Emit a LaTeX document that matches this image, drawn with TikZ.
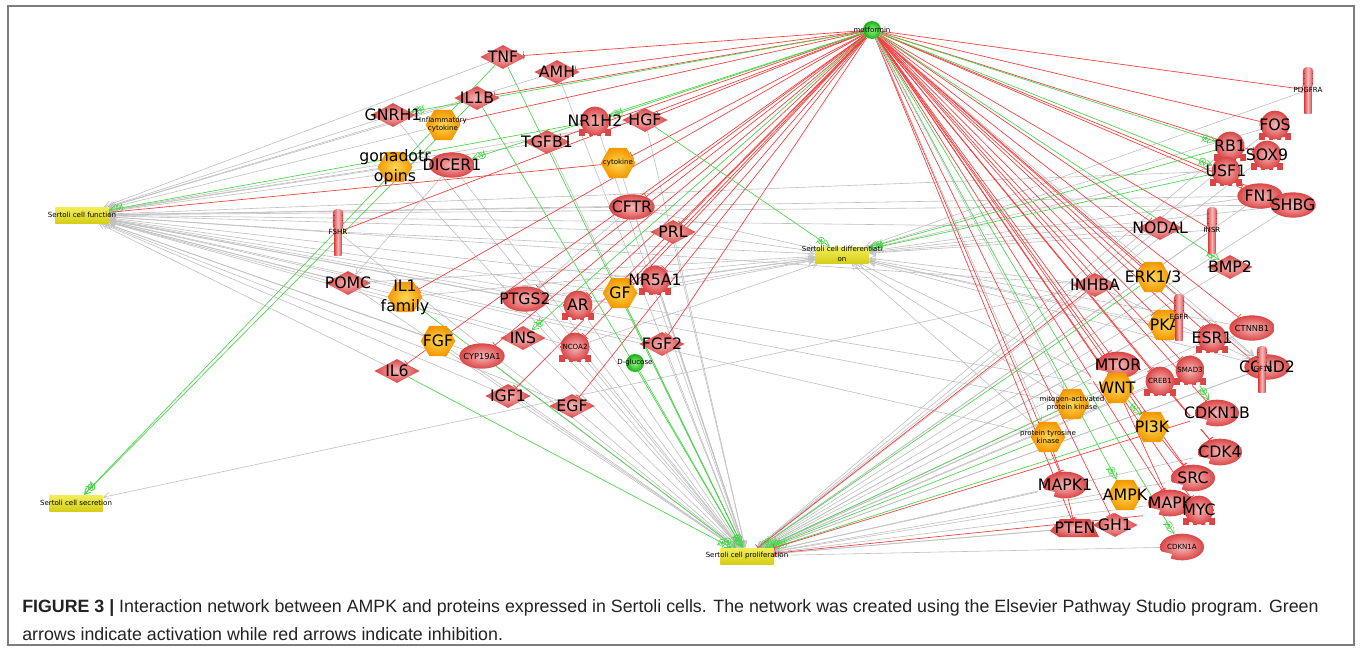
\documentclass[tikz,border=0pt]{standalone}
\usepackage{fontspec}
\setmainfont{DejaVu Sans}
\newfontfamily\capfont{Liberation Sans}
\usetikzlibrary{shapes.geometric,arrows.meta,decorations.markings}
\pgfdeclarelayer{edgelayer}
\pgfdeclarelayer{paper}
\pgfsetlayers{paper,edgelayer,main}

\definecolor{rdark}{RGB}{218,70,70}
\definecolor{rlight}{RGB}{248,185,185}
\definecolor{odark}{RGB}{243,152,0}
\definecolor{olight}{RGB}{255,215,85}
\definecolor{gdark}{RGB}{25,175,25}
\definecolor{glight}{RGB}{150,245,130}
\definecolor{ydark}{RGB}{214,206,24}
\definecolor{ylight}{RGB}{242,238,90}
\definecolor{linegray}{RGB}{192,192,192}
\definecolor{linered}{RGB}{246,60,60}
\definecolor{linegreen}{RGB}{75,212,75}
\definecolor{framegray}{RGB}{125,125,125}
\definecolor{captext}{RGB}{35,35,35}

\newcommand\plusmark{%
  \draw[linegreen,line width=0.45pt] (0,0) circle (2.6pt);
  \draw[linegreen,line width=0.45pt] (-1.6pt,0)--(1.6pt,0) (0,-1.6pt)--(0,1.6pt);}

\tikzset{
  big/.style={font=\fontsize{11.8}{15}\selectfont},
  mid/.style={font=\fontsize{6.2}{7}\selectfont},
  small/.style={font=\fontsize{5.3}{6}\selectfont},
  txt/.style={inner sep=0pt, align=center, text=black},
  redshade/.style={shade, shading=radial, inner color=rlight, outer color=rdark},
  dia/.style={diamond, redshade, minimum width=34pt, minimum height=18pt, inner sep=0pt},
  ell/.style={ellipse, redshade, minimum width=34pt, minimum height=19pt, inner sep=0pt},
  hexa/.style={regular polygon, regular polygon sides=6, minimum size=26pt, inner sep=0pt,
    shade, shading=radial, inner color=olight, outer color=odark},
  ball/.style={circle, minimum size=13.5pt, inner sep=0pt, shade, shading=radial,
    inner color=glight, outer color=gdark},
  rball/.style={circle, minimum size=21.5pt, inner sep=0pt, redshade},
  rod/.style={rectangle, minimum width=7.5pt, minimum height=34pt, inner sep=0pt},
  ybox/.style={rectangle, minimum width=40pt, minimum height=12pt, inner sep=0pt,
    top color=ylight, bottom color=ydark},
  gE/.style={draw=linegray, line width=0.45pt,
    -{Straight Barb[length=4.5pt,width=5pt,line width=0.45pt]}},
  iE/.style={draw=linered, line width=0.5pt, -{Bar[width=6pt,line width=0.5pt]}},
  aE/.style={draw=linegreen, line width=0.5pt,
    -{Straight Barb[length=4.5pt,width=5pt,line width=0.5pt]},
    postaction={decorate,decoration={markings,mark=at position -8pt with {\plusmark}}}},
}

% plain shape with a centred label
\newcommand\NetNode[5]{\node[#1] (#2) at (#3) {};\node[txt,#4] at (#2.center) {#5};}
% nuclear receptor: ball on a toothed base
\newcommand\NucRec[4]{%
  \begin{scope}[shift={(#2)}]
    \fill[rdark] (-16,8) rectangle (16,15);
    \fill[white] (-10,12) rectangle (-6,15.6) (-2,12) rectangle (2,15.6) (6,12) rectangle (10,15.6);
  \end{scope}
  \node[rball] (#1) at (#2) {};
  \node[txt,#3] at (#1.center) {#4};}
% membrane receptor: upright rod with a wider head
\newcommand\MemRec[3]{%
  \begin{scope}[shift={(#2)}]
    \shade[left color=rdark, right color=rdark, middle color=rlight] (-3.6,-4) rectangle (3.6,23);
    \shade[left color=rdark, right color=rdark, middle color=rlight, rounded corners=3pt] (-5.2,-23) rectangle (5.2,-2);
    \foreach \k in {-17,-12,-7} \draw[rdark!80!black, line width=0.3pt] (-5,\k) -- (-3.5,\k) (3.5,\k) -- (5,\k);
  \end{scope}
  \node[rod] (#1) at (#2) {};
  \node[txt,small] at (#1.center) {#3};}
% kinase: ellipse with a notch at the lower left
\newcommand\KinNode[4]{%
  \node[ell, minimum width=33pt, minimum height=20pt] (#1) at (#2) {};
  \begin{scope}[shift={(#2)}]
    \fill[white] (-27,3) -- (-10,7) -- (-13,16) -- (-27,16) -- cycle;
  \end{scope}
  \node[txt,#3] at (#1.center) {#4};}

\begin{document}
\begin{tikzpicture}[x=0.75pt,y=-0.75pt]
\useasboundingbox (0,0) rectangle (1360,650);
\begin{pgfonlayer}{paper}
  \fill[white] (0,0) rectangle (1360,650);
  \draw[framegray, line width=1.2pt] (8,6) rectangle (1354,645);
\end{pgfonlayer}

% ---------- phenotype boxes ----------
\NetNode{ybox}{func}{82,215}{small}{Sertoli cell function}
\NetNode{ybox}{secr}{76,503}{small}{Sertoli cell secretion}
\node[ybox] (diff) at (842,255) {};
\node[txt,small,font=\fontsize{5.3}{7.5}\selectfont] at (842,254) {Sertoli cell differentiati\\on};
\NetNode{ybox}{prol}{747,556}{small}{Sertoli cell proliferation}

% ---------- left cluster ----------
\NetNode{ball}{metf}{872,30}{small}{metformin}
\NetNode{dia}{TNF}{503,57}{big}{TNF}
\NetNode{dia}{AMH}{557,72}{big}{AMH}
\NetNode{dia}{IL1B}{477,98}{big}{IL1B}
\NetNode{dia}{GNRH1}{393,115}{big}{GNRH1}
\NetNode{hexa}{inflcyt}{443,125}{small}{Inflammatory\\cytokine}
\NucRec{NR1H2}{595,121}{big}{NR1H2}
\NetNode{dia}{HGF}{645,120}{big}{HGF}
\NetNode{dia}{TGFB1}{547,142}{big}{TGFB1}
\NetNode{ell}{DICER1}{452,165}{big}{DICER1}
\NetNode{hexa}{gonad}{395,167}{big}{gonadotr\\opins}
\NetNode{hexa}{cytok}{618,163}{small}{cytokine}
\NetNode{ell}{CFTR}{632,207}{big}{CFTR}
\MemRec{FSHR}{338,232}{FSHR}
\NetNode{dia}{POMC}{348,283}{big}{POMC}
\NetNode{hexa}{IL1fam}{405,297}{big}{IL1\\family}
\NetNode{hexa}{FGF}{438,341}{big}{FGF}
\NetNode{ell}{PTGS2}{525,299}{big}{PTGS2}
\NetNode{dia}{INS}{523,338}{big}{INS}
\NetNode{ell}{CYP19A1}{482,356}{mid}{CYP19A1}
\NucRec{AR}{578,305}{big}{AR}
\NucRec{NCOA2}{575,347}{small}{NCOA2}
\NetNode{hexa}{GF}{620,293}{big}{GF}
\NucRec{NR5A1}{655,280}{big}{NR5A1}
\NetNode{dia}{PRL}{673,232}{big}{PRL}
\NetNode{dia}{FGF2}{662,344}{big}{FGF2}
\NetNode{ball}{Dglu}{635,363}{small}{D-glucose}
\NetNode{dia}{IL6}{397,371}{big}{IL6}
\NetNode{dia}{IGF1}{508,396}{big}{IGF1}
\NetNode{dia}{EGF}{572,406}{big}{EGF}

% ---------- right cluster ----------
\MemRec{PDGFRA}{1308,90}{PDGFRA}
\NucRec{FOS}{1275,125}{big}{FOS}
\NucRec{RB1}{1230,146}{big}{RB1}
\NucRec{SOX9}{1267,155}{big}{SOX9}
\NucRec{USF1}{1226,171}{big}{USF1}
\NetNode{ell}{FN1}{1260,196}{big}{FN1}
\NetNode{ell}{SHBG}{1293,205}{big}{SHBG}
\NetNode{dia}{NODAL}{1160,228}{big}{NODAL}
\MemRec{INSR}{1212,230}{INSR}
\NetNode{dia}{BMP2}{1230,267}{big}{BMP2}
\NetNode{hexa}{ERK}{1153,277}{big}{ERK1/3}
\NetNode{dia}{INHBA}{1095,285}{big}{INHBA}
\NetNode{hexa}{PKA}{1165,325}{big}{PKA}
\MemRec{EGFR}{1179,317}{EGFR}
\NetNode{ell}{CTNNB1}{1252,328}{mid}{CTNNB1}
\NucRec{ESR1}{1212,338}{big}{ESR1}
\NetNode{ell}{CCND2}{1267,367}{big}{CCND2}
\MemRec{IGF1R}{1262,369}{IGF1R}
\KinNode{MTOR}{1118,365}{big}{MTOR}
\NetNode{hexa}{WNT}{1117,388}{big}{WNT}
\NucRec{CREB1}{1160,381}{small}{CREB1}
\NucRec{SMAD3}{1190,370}{small}{SMAD3}
\NetNode{hexa}{mapkk}{1072,404}{small}{mitogen-activated\\protein kinase}
\NetNode{hexa}{ptk}{1048,437}{small}{protein tyrosine\\kinase}
\NetNode{hexa}{PI3K}{1152,427}{big}{PI3K}
\KinNode{CDKN1B}{1217,413}{big}{CDKN1B}
\KinNode{CDK4}{1220,452}{big}{CDK4}
\KinNode{MAPK1}{1065,485}{big}{MAPK1}
\NetNode{hexa}{AMPK}{1125,495}{big}{AMPK}
\KinNode{SRC}{1193,478}{big}{SRC}
\KinNode{MAPK}{1170,503}{big}{MAPK}
\NucRec{MYC}{1199,510}{big}{MYC}
\begin{scope}[shift={(1075,528)}]
  \shade[redshade] (-25,3) -- (-15,-9) -- (15,-9) -- (24,9) -- (-16,9) -- cycle;
\end{scope}
\node[rectangle, minimum width=36pt, minimum height=13pt, inner sep=0pt] (PTEN) at (1075,528) {};
\node[txt,big] at (PTEN.center) {PTEN};
\NetNode{dia}{GH1}{1115,525}{big}{GH1}
\KinNode{CDKN1A}{1182,547}{small}{CDKN1A}

% ---------- relations ----------
\begin{pgfonlayer}{edgelayer}
  % gray: regulation of cell function
  \foreach \s in {TNF,AMH,IL1B,GNRH1,inflcyt,gonad,DICER1,TGFB1,HGF,CFTR,FSHR,POMC,IL1fam,FGF,IL6,PTGS2,INS,CYP19A1,AR,NCOA2,IGF1,EGF,PRL,GF,NR5A1,FGF2,USF1,FN1,SHBG,INHBA,mapkk,ptk,WNT,NODAL}
    \draw[gE] (\s) -- (func);
  % gray: regulation of proliferation
  \foreach \s in {AMH,GNRH1,gonad,DICER1,TGFB1,HGF,NR1H2,cytok,CFTR,FSHR,POMC,FGF,PTGS2,INS,CYP19A1,AR,NCOA2,IGF1,EGF,PRL,NR5A1,FGF2,MAPK1,AMPK,PTEN,GH1,MAPK,SRC,CDK4,CDKN1A,ESR1,CCND2,CTNNB1,SMAD3,CREB1,MTOR,WNT,NODAL,INSR,EGFR,IGF1R,FN1,SOX9,FOS,BMP2,PKA,RB1,SHBG}
    \draw[gE] (\s) -- (prol);
  % gray: regulation of differentiation
  \foreach \s in {FSHR,POMC,PTGS2,AR,GF,NR5A1,CFTR,PRL,NCOA2,IL1fam,NODAL,INSR,FN1,SHBG,SOX9,PDGFRA,FOS,ESR1,CCND2,CTNNB1,WNT,INHBA,mapkk,ptk,PKA}
    \draw[gE] (\s) -- (diff);
  \draw[gE] (INHBA) -- (secr);
  % metformin
  \foreach \s in {TNF,AMH,IL1B,inflcyt,cytok,TGFB1,CFTR,FSHR,IL1fam,FGF,PTGS2,CYP19A1,AR,GF,NR5A1,NCOA2,PRL,FGF2,IGF1,EGF,HGF,PDGFRA,FOS,SOX9,NODAL,INSR,INHBA,ERK,PKA,EGFR,CTNNB1,ESR1,MTOR,WNT,CREB1,SMAD3,PI3K,CDK4,SRC,MAPK,MYC,PTEN,MAPK1,GH1,IGF1R,FN1,SHBG,CDKN1B}
    \draw[iE] (metf) -- (\s);
  \foreach \s in {GNRH1,DICER1,NR1H2,INS,RB1,USF1,BMP2,AMPK,CDKN1A}
    \draw[aE] (metf) -- (\s);
  \foreach \s in {mapkk,ptk,CCND2}
    \draw[gE] (metf) -- (\s);
  % activation of phenotypes
  \foreach \s in {HGF,USF1,RB1} \draw[aE] (\s) -- (diff);
  \foreach \s in {TNF,IL1B,IL6,GF,Dglu,IL1fam,ERK,mapkk,PI3K,ptk} \draw[aE] (\s) -- (prol);
  \foreach \s in {CDKN1B,MYC,INHBA} \draw[iE] (\s) -- (prol);
  \foreach \s in {TNF,IL1B} \draw[aE] (\s) -- (secr);
  \draw[aE] (NR1H2) -- (func);
  \draw[iE] (cytok) -- (func);
  % protein-protein relations
  \draw[iE] (FGF) -- (IL6);
  \draw[iE] (ptk) -- (MAPK1);
  \draw[iE] (MAPK1) -- (PTEN);
  \draw[iE] (CREB1) -- (CDK4);
  \draw[iE] (PI3K) -- (SRC);
  \draw[iE] (WNT) -- (MAPK);
  \draw[aE] (WNT) -- (PI3K);
  \draw[aE] (SMAD3) -- (CDKN1B);
  \draw[gE] (DICER1) -- (POMC);
  \draw[gE] (CFTR) -- (PTGS2);
  \draw[gE] (ERK) -- (CCND2);
  \draw[gE] (INHBA) -- (CCND2);
\end{pgfonlayer}

% ---------- caption ----------
\node[anchor=west, inner sep=0pt, text=captext, font=\capfont\fontsize{13.35}{15}\selectfont] (cap1) at (22,608)
  {\textbf{FIGURE 3 |} Interaction network between AMPK and proteins expressed in Sertoli cells. The network was created using the Elsevier Pathway Studio program. Green};
\node[anchor=west, inner sep=0pt, text=captext, font=\capfont\fontsize{13.35}{15}\selectfont] (cap2) at (22,634)
  {arrows indicate activation while red arrows indicate inhibition.};
\end{tikzpicture}
\end{document}
